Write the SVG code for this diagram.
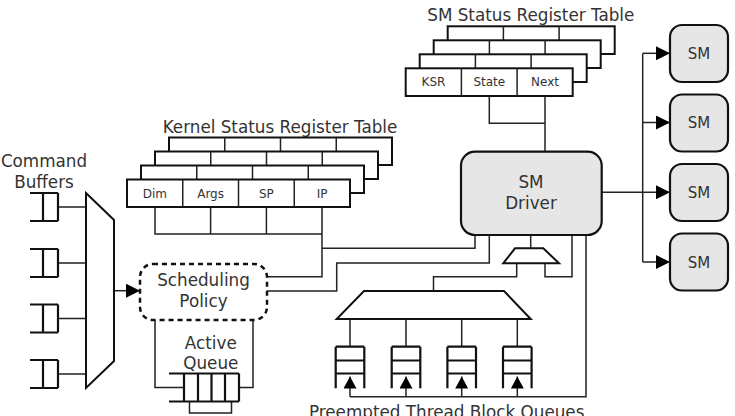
<svg xmlns="http://www.w3.org/2000/svg" width="735" height="416" viewBox="0 0 735 416">
<defs>
<marker id="arr" viewBox="0 0 14 14" refX="14" refY="7" markerWidth="14" markerHeight="14" markerUnits="userSpaceOnUse" orient="auto">
<path d="M0,0 L14,7 L0,14 z" fill="#000"/>
</marker>
<marker id="arrs" viewBox="0 0 12 13" refX="12" refY="6.5" markerWidth="12" markerHeight="13" markerUnits="userSpaceOnUse" orient="auto">
<path d="M0,0 L12,6.5 L0,13 z" fill="#000"/>
</marker>
</defs>
<style>
text{font-family:"DejaVu Sans","Liberation Sans",sans-serif;fill:#333}
.t{font-size:16.8px}
.c{font-size:12px}
.m{text-anchor:middle}
.conn{fill:none;stroke:#222;stroke-width:1.5}
.sh{fill:#fff;stroke:#111;stroke-width:2}
.q{fill:none;stroke:#111;stroke-width:2.2}
.gray{fill:#e6e6e6;stroke:#111;stroke-width:2.2}
.dash{fill:#fff;stroke:#111;stroke-width:2.5;stroke-dasharray:5 4}
</style>
<rect width="735" height="416" fill="#fff"/>

<g id="connectors">
<path class="conn" d="M58,207 H86 M58,263 H86 M58,318.5 H86 M58,374 H86"/>
<path class="conn" d="M114,290.7 H140" marker-end="url(#arr)"/>
<path class="conn" d="M155,320 V387.5 H184 M253,320 V387.5 H239"/>
<path class="conn" d="M189.5,401.5 V413 H231.5 V401.5"/>
<path class="conn" d="M155,207 V234 H322 M210.6,207 V234 M266.4,207 V234 M322,207 V276.7 H267 M322,248.3 H475 V235"/>
<path class="conn" d="M267,291 H336.7 V263 H489.3 V235"/>
<path class="conn" d="M489.3,96 V123.3 H545 M545,96 V151.7"/>
<path class="conn" d="M530.7,235 V248.3"/>
<path class="conn" d="M516.7,263.3 V276.7 H433.5 V291 M545,263.3 V276.7 H572 V235"/>
<path class="conn" d="M350,319 V346.7 M406,319 V346.7 M461.7,319 V346.7 M517.3,319 V346.7"/>
<path class="conn" d="M586,235 V396.7 H350"/>
<path class="conn" d="M350,396.7 V376.5" marker-end="url(#arrs)"/>
<path class="conn" d="M406,396.7 V376.5" marker-end="url(#arrs)"/>
<path class="conn" d="M461.7,396.7 V376.5" marker-end="url(#arrs)"/>
<path class="conn" d="M517.3,396.7 V376.5" marker-end="url(#arrs)"/>
<path class="conn" d="M601.7,192.3 H670" marker-end="url(#arr)"/>
<path class="conn" d="M642.7,53.3 V262"/>
<path class="conn" d="M642.7,53.3 H670" marker-end="url(#arr)"/>
<path class="conn" d="M642.7,122.5 H670" marker-end="url(#arr)"/>
<path class="conn" d="M642.7,262 H670" marker-end="url(#arr)"/>
</g>

<g id="command-buffers">
<text class="t m" x="44" y="167.3">Command</text>
<text class="t m" x="44" y="188.3">Buffers</text>
<path class="q" d="M30,193 H58 M30,221 H58 M43,193 V221 M58,193 V221"/>
<path class="q" d="M30,249 H58 M30,277 H58 M43,249 V277 M58,249 V277"/>
<path class="q" d="M30,304.5 H58 M30,332.5 H58 M43,304.5 V332.5 M58,304.5 V332.5"/>
<path class="q" d="M30,360 H58 M30,388 H58 M43,360 V388 M58,360 V388"/>
</g>

<g id="mux">
<polygon class="sh" points="86,193 114,220 114,361 86,388"/>
</g>

<g id="scheduling-policy">
<rect class="dash" x="140" y="264" width="127" height="56" rx="13"/>
<text class="t m" x="203.5" y="285.7">Scheduling</text>
<text class="t m" x="203.5" y="306.5">Policy</text>
</g>

<g id="active-queue">
<text class="t m" x="210.8" y="349">Active</text>
<text class="t m" x="210.8" y="368.7">Queue</text>
<path class="q" d="M169,373.5 H239 M169,401.5 H239 M184,373.5 V401.5 M198,373.5 V401.5 M211.5,373.5 V401.5 M225,373.5 V401.5 M239,373.5 V401.5"/>
</g>

<g id="kernel-status-register-table">
<text class="t m" x="280" y="133.3">Kernel Status Register Table</text>
<rect class="sh" x="169" y="137.5" width="223" height="27.5"/>
<path class="conn" d="M224.75,137.5 V165 M280.5,137.5 V165 M336.25,137.5 V165"/>
<rect class="sh" x="155" y="151.5" width="223" height="27.5"/>
<path class="conn" d="M210.75,151.5 V179 M266.5,151.5 V179 M322.25,151.5 V179"/>
<rect class="sh" x="141" y="165.5" width="223" height="27.5"/>
<path class="conn" d="M196.75,165.5 V193 M252.5,165.5 V193 M308.25,165.5 V193"/>
<rect class="sh" x="127" y="179.5" width="223" height="27.5"/>
<path class="conn" d="M182.75,179.5 V207 M238.5,179.5 V207 M294.25,179.5 V207"/>
<text class="c m" x="154.9" y="197.6">Dim</text>
<text class="c m" x="210.6" y="197.6">Args</text>
<text class="c m" x="266.4" y="197.6">SP</text>
<text class="c m" x="322.1" y="197.6">IP</text>
</g>

<g id="sm-status-register-table">
<text class="t m" x="530.8" y="20.7">SM Status Register Table</text>
<rect class="sh" x="447.7" y="26.3" width="167" height="27.7"/>
<path class="conn" d="M503.4,26.3 V54 M559.1,26.3 V54"/>
<rect class="sh" x="433.7" y="40.3" width="167" height="27.7"/>
<path class="conn" d="M489.4,40.3 V68 M545.1,40.3 V68"/>
<rect class="sh" x="419.7" y="54.3" width="167" height="27.7"/>
<path class="conn" d="M475.4,54.3 V82 M531.1,54.3 V82"/>
<rect class="sh" x="405.7" y="68.3" width="167" height="27.7"/>
<path class="conn" d="M461.4,68.3 V96 M517.1,68.3 V96"/>
<text class="c m" x="433.5" y="86.4">KSR</text>
<text class="c m" x="489.3" y="86.4">State</text>
<text class="c m" x="545" y="86.4">Next</text>
</g>

<g id="sm-driver">
<rect class="gray" x="461" y="151.7" width="140.7" height="83.3" rx="14"/>
<text class="t m" x="531" y="187.7">SM</text>
<text class="t m" x="531" y="209">Driver</text>
</g>

<g id="small-demux">
<polygon class="sh" points="515,248.3 543.3,248.3 559,263.3 503.3,263.3"/>
</g>

<g id="big-demux">
<polygon class="sh" points="364,291 504,291 530.7,319 336.7,319"/>
</g>

<g id="preempted-queues">
<path class="q" d="M335.7,346.7 V388.3 M364.3,346.7 V388.3 M335.7,346.7 H364.3 M335.7,360.5 H364.3 M335.7,373.5 H364.3"/>
<path class="q" d="M391.7,346.7 V388.3 M420.3,346.7 V388.3 M391.7,346.7 H420.3 M391.7,360.5 H420.3 M391.7,373.5 H420.3"/>
<path class="q" d="M447.4,346.7 V388.3 M476,346.7 V388.3 M447.4,346.7 H476 M447.4,360.5 H476 M447.4,373.5 H476"/>
<path class="q" d="M503,346.7 V388.3 M531.6,346.7 V388.3 M503,346.7 H531.6 M503,360.5 H531.6 M503,373.5 H531.6"/>
<text class="t m" x="446.7" y="417.5">Preempted Thread Block Queues</text>
</g>

<g id="sm-1">
<rect class="gray" x="670" y="25" width="58" height="57" rx="12"/>
<text class="m" x="699" y="58.8" font-size="15">SM</text>
</g>
<g id="sm-2">
<rect class="gray" x="670" y="94.5" width="58" height="57" rx="12"/>
<text class="m" x="699" y="128" font-size="15">SM</text>
</g>
<g id="sm-3">
<rect class="gray" x="670" y="164" width="58" height="57" rx="12"/>
<text class="m" x="699" y="197.8" font-size="15">SM</text>
</g>
<g id="sm-4">
<rect class="gray" x="670" y="233.5" width="58" height="57" rx="12"/>
<text class="m" x="699" y="267.5" font-size="15">SM</text>
</g>
</svg>
